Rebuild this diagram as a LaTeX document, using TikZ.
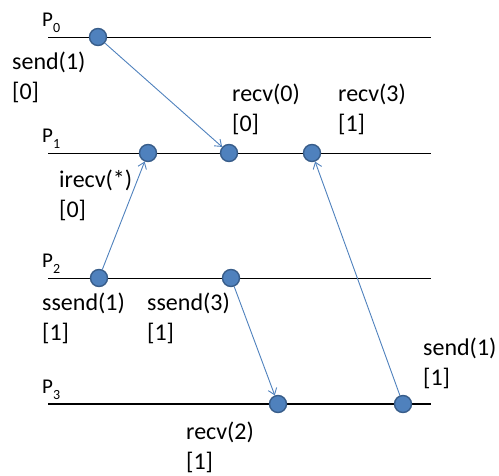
\documentclass[tikz,border=0pt]{standalone}
\usepackage{fontspec}
\setmainfont{Carlito}
\usetikzlibrary{arrows.meta}
\definecolor{evblue}{RGB}{79,129,189}
\definecolor{evedge}{RGB}{56,93,138}

\begin{document}
\begin{tikzpicture}[x=1pt,y=-1pt,
  event/.style={circle,fill=evblue,draw=evedge,line width=1.4pt,minimum size=17pt,inner sep=0pt},
  msg/.style={evblue,line width=0.9pt,-{Straight Barb[length=6pt,width=9pt]}},
  lbl/.style={anchor=base west,inner sep=0pt,align=left,font=\fontsize{24}{30}\selectfont},
  proc/.style={anchor=base west,inner sep=0pt,font=\fontsize{21}{24}\selectfont}]
\useasboundingbox (0,0) rectangle (499,475);
% process time lines
\foreach \i/\y/\w in {0/37/1pt,1/153/1pt,2/278/1pt,3/404/1.8pt}{
  \draw[line width=\w] (48,\y)--(431,\y);
  \node[proc] (p\i) at (42,\y-11) {P\raisebox{-6pt}{\fontsize{14}{14}\selectfont\i}};
}
% events
\node[event] (p0s1)  at (98,37)  {};
\node[event] (p1ir)  at (148,153) {};
\node[event] (p1r0)  at (229,153) {};
\node[event] (p1r3)  at (312,153) {};
\node[event] (p2ss1) at (99,278) {};
\node[event] (p2ss3) at (231,278) {};
\node[event] (p3r2)  at (278,404) {};
\node[event] (p3s1)  at (403,404) {};
% messages
\draw[msg] (p0s1)--(p1r0);
\draw[msg] (p2ss1)--(p1ir);
\draw[msg] (p2ss3)--(p3r2);
\draw[msg] (p3s1)--(p1r3);
% labels (base = last line)
\node[lbl] (l0s1)  at (12,99)   {send(1)\\{[0]}};
\node[lbl] (l1r0)  at (232,131) {recv(0)\\{[0]}};
\node[lbl] (l1r3)  at (338,131) {recv(3)\\{[1]}};
\node[lbl] (l1ir)  at (59,217)  {irecv(*)\\{[0]}};
\node[lbl] (l2ss1) at (42,340)  {ssend(1)\\{[1]}};
\node[lbl] (l2ss3) at (147,340) {ssend(3)\\{[1]}};
\node[lbl] (l3s1)  at (423,385) {send(1)\\{[1]}};
\node[lbl] (l3r2)  at (186,469) {recv(2)\\{[1]}};
\end{tikzpicture}
\end{document}
